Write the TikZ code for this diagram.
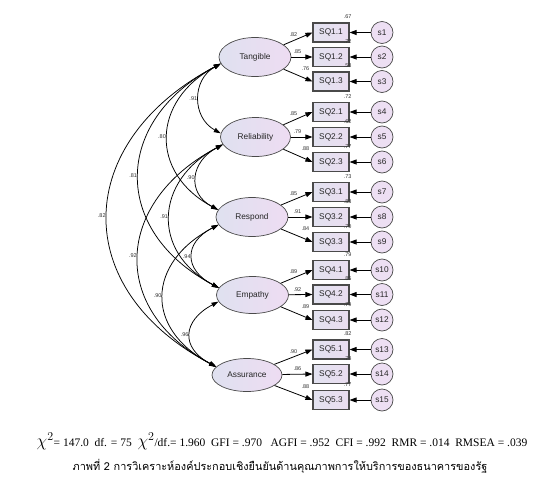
\documentclass[tikz,border=0pt]{standalone}
\usepackage{fontspec}
\setmainfont{Liberation Serif}
\newfontfamily\diagfont{Liberation Sans}
\newfontfamily\thaifont[Script=Thai]{Loma}
\usetikzlibrary{arrows.meta,shapes.geometric,calc}
\definecolor{latL}{HTML}{DFE1F0}
\definecolor{latR}{HTML}{EEDCF2}
\definecolor{obsL}{HTML}{E2E2F0}
\definecolor{obsR}{HTML}{EADDF0}
\definecolor{errC}{HTML}{EDDFF3}
\definecolor{edge}{HTML}{4A4A4A}
\tikzset{
  lat/.style={ellipse, draw=edge, line width=0.7pt, left color=latL, right color=latR,
    minimum width=72pt, minimum height=39pt, inner sep=0pt,
    font=\diagfont\fontsize{8.3}{9}\selectfont, text=black!85},
  obs/.style={rectangle, draw=edge, line width=1.1pt, left color=obsL, right color=obsR,
    minimum width=36pt, minimum height=19pt, inner sep=0pt,
    font=\diagfont\fontsize{8.3}{9}\selectfont, text=black!85},
  err/.style={circle, draw=edge, line width=0.7pt, fill=errC, minimum size=22pt, inner sep=0pt,
    font=\diagfont\fontsize{8.3}{9}\selectfont, text=black!85},
  ld/.style={-{Triangle[length=7pt,width=5pt]}, line width=0.8pt},
  cov/.style={{Triangle[length=7pt,width=4.5pt]}-{Triangle[length=7pt,width=4.5pt]}, line width=0.75pt},
  coef/.style={font=\diagfont\fontsize{5.5}{6}\selectfont, inner sep=0.5pt, text=black!80},
  covlab/.style={coef, left, inner sep=1.5pt},
}
\begin{document}
\begin{tikzpicture}[x=1pt,y=-1pt]
\useasboundingbox[fill=white] (0,0) rectangle (544,493);

% latent variables
\node[lat] (T) at (255,57) {Tangible};
\node[lat, minimum width=70pt] (R) at (255.5,137) {Reliability};
\node[lat] (P) at (252,217) {Respond};
\node[lat, minimum height=37pt] (E) at (252.5,295) {Empathy};
\node[lat, minimum width=70pt, minimum height=33pt] (A) at (247,375) {Assurance};

% observed variables and errors
\foreach \nm/\yy/\lab/\en/\ee in {
  Q11/32.5/SQ1.1/e1/s1, Q12/57/SQ1.2/e2/s2, Q13/81.5/SQ1.3/e3/s3,
  Q21/112/SQ2.1/e4/s4, Q22/137/SQ2.2/e5/s5, Q23/162/SQ2.3/e6/s6,
  Q31/192/SQ3.1/e7/s7, Q32/217/SQ3.2/e8/s8, Q33/242/SQ3.3/e9/s9,
  Q41/270/SQ4.1/e10/s10, Q42/294.5/SQ4.2/e11/s11, Q43/320/SQ4.3/e12/s12,
  Q51/349.5/SQ5.1/e13/s13, Q52/374/SQ5.2/e14/s14, Q53/400/SQ5.3/e15/s15}{
  \node[obs] (\nm) at (331,\yy) {\lab};
  \node[err] (\en) at (382,\yy) {\ee};
  \draw[ld] (\en) -- (\nm);
}

% loadings
\foreach \lv/\qa/\qb/\qc/\la/\lb/\lc in {
  T/Q11/Q12/Q13/.82/.85/.76,
  R/Q21/Q22/Q23/.85/.79/.88,
  P/Q31/Q32/Q33/.85/.91/.84,
  E/Q41/Q42/Q43/.89/.92/.89,
  A/Q51/Q52/Q53/.90/.86/.88}{
  \draw[ld] (\lv) -- (\qa.west);
  \draw[ld] (\lv) -- (\qb.west);
  \draw[ld] (\lv) -- (\qc.west);
  \node[coef] at ($(\qa.west)+(-19,2)$) {\la};
  \node[coef] at ($(\qb.west)+(-15,-5)$) {\lb};
  \node[coef] at ($(\qc.west)+(-7,-13)$) {\lc};
}

% squared multiple correlations
\foreach \nm/\rr in {Q11/.67, Q12/.72, Q13/.58, Q21/.72, Q22/.62, Q23/.77,
  Q31/.73, Q32/.83, Q33/.70, Q41/.79, Q42/.85, Q43/.79, Q51/.82, Q52/.74, Q53/.77}{
  \node[coef] at ($(\nm.north east)+(-2,-5.5)$) {\rr};
}

% covariances
\draw[cov] (T.191) .. controls +(-29,16) and +(-29,-16) .. node[pos=0.5, covlab] {.91} (R.174);
\draw[cov] (T.191) .. controls +(-69,37) and +(-69,-37) .. node[pos=0.5, covlab] {.80} (P.168);
\draw[cov] (T.191) .. controls +(-108,57) and +(-108,-57) .. node[pos=0.5, covlab] {.81} (E.168);
\draw[cov] (T.191) .. controls +(-148,78) and +(-148,-78) .. node[pos=0.5, covlab] {.82} (A.165);
\draw[cov] (R.193) .. controls +(-32,17) and +(-32,-17) .. node[pos=0.5, covlab] {.90} (P.168);
\draw[cov] (R.193) .. controls +(-68,36) and +(-68,-36) .. node[pos=0.5, covlab] {.91} (E.168);
\draw[cov] (R.193) .. controls +(-108,57) and +(-108,-57) .. node[pos=0.5, covlab] {.92} (A.165);
\draw[cov] (P.193) .. controls +(-35,18) and +(-35,-18) .. node[pos=0.5, covlab] {.94} (E.168);
\draw[cov] (P.193) .. controls +(-72,38) and +(-72,-38) .. node[pos=0.5, covlab] {.90} (A.165);
\draw[cov] (E.191) .. controls +(-36,19) and +(-36,-19) .. node[pos=0.5, covlab] {.96} (A.165);

% fit indices and caption
\node[inner sep=0pt, font=\fontsize{11.5}{13}\selectfont] (fit) at (282,441)
  {{\fontsize{17}{17}\selectfont$\chi^{2}$}= 147.0\ \ df. = 75\ \ {\fontsize{17}{17}\selectfont$\chi^{2}$}/df.= 1.960\ \ GFI = .970\ \ \ AGFI = .952\ \ CFI = .992\ \ RMR = .014\ \ RMSEA = .039};
\node[inner sep=0pt, font=\thaifont\fontsize{10.9}{13}\selectfont] (cap) at (280,466)
  {ภาพที่ 2 การวิเคราะห์องค์ประกอบเชิงยืนยันด้านคุณภาพการให้บริการของธนาคารของรัฐ};
\end{tikzpicture}
\end{document}
